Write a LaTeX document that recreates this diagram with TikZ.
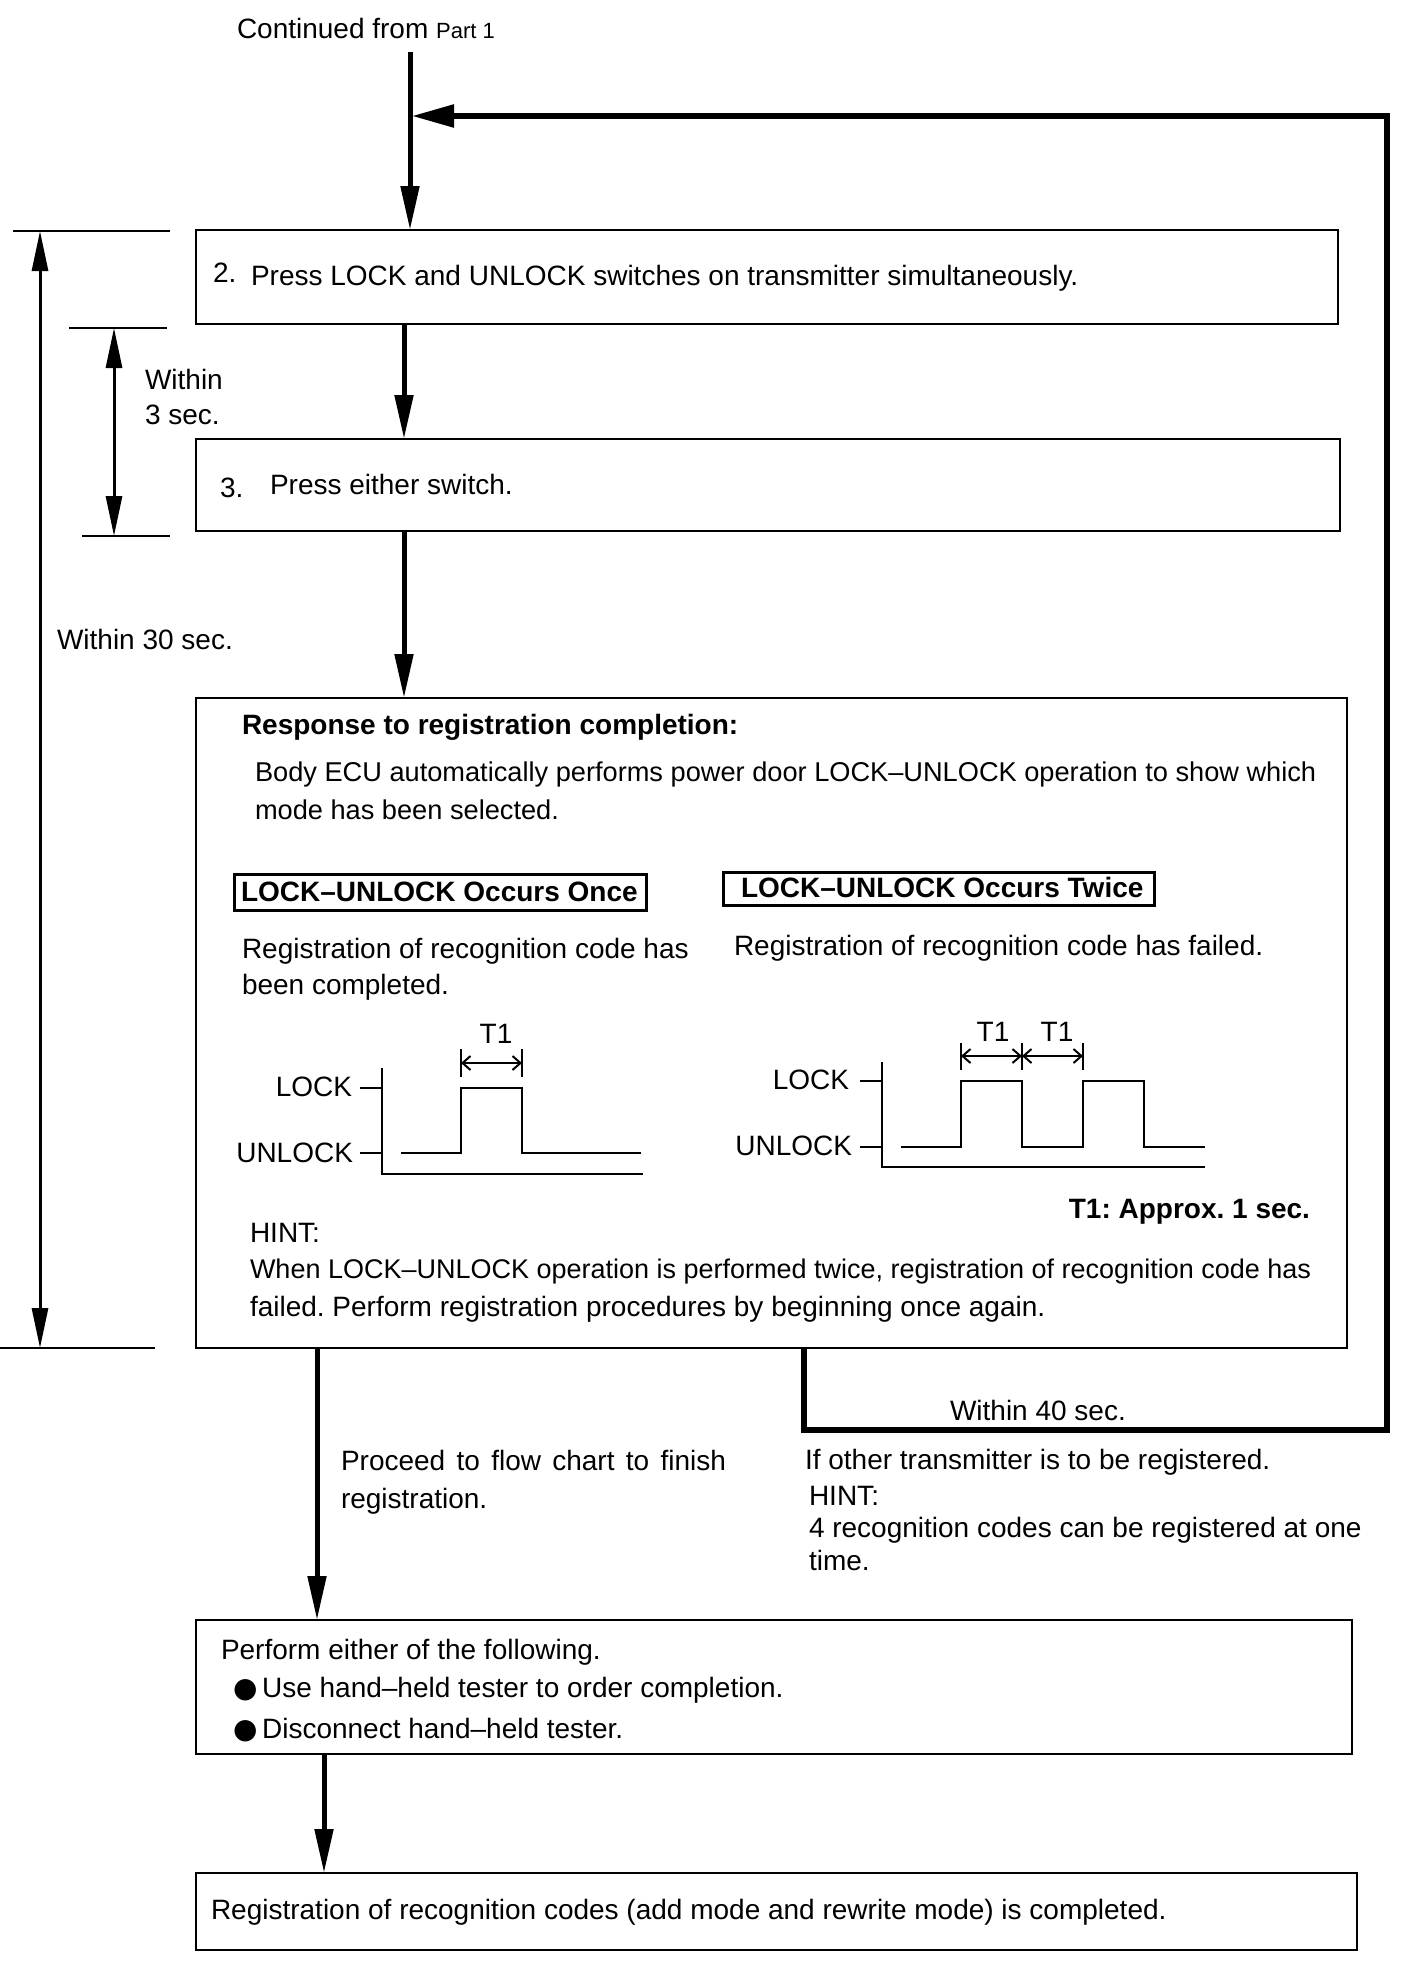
\documentclass[tikz,border=0pt]{standalone}
\usepackage{fontspec}
\setmainfont{Liberation Sans}
\newfontfamily\dejavu{DejaVu Sans}
\usetikzlibrary{arrows.meta}
\frenchspacing
\begin{document}
\begin{tikzpicture}[x=1pt,y=-1pt,
  txt/.style={anchor=base west,inner sep=0pt,outer sep=0pt,font=\fontsize{28}{34}\selectfont},
  txtr/.style={anchor=base east,inner sep=0pt,outer sep=0pt,font=\fontsize{28}{34}\selectfont},
  txtc/.style={anchor=base,inner sep=0pt,outer sep=0pt,font=\fontsize{28}{34}\selectfont},
  boxn/.style={draw,line width=2pt,anchor=north west,inner sep=0pt,outer sep=0pt},
  flow/.style={line width=5pt,-{Triangle[length=44pt,width=18pt]}},
  loopline/.style={line width=5.5pt,-{Triangle[length=42pt,width=22pt]}},
  dimline/.style={line width=3pt,{Triangle[length=40pt,width=16pt]}-{Triangle[length=40pt,width=16pt]}},
  tick/.style={line width=2.5pt},
  sig/.style={line width=2.8pt},
  tarrow/.style={line width=2pt,{Straight Barb[length=8pt,width=14pt]}-{Straight Barb[length=8pt,width=14pt]}},
]
\useasboundingbox (0,0) rectangle (1408,1978);

% boxes
\node[boxn,minimum width=1142pt,minimum height=94pt] (b2) at (196,230) {};
\node[boxn,minimum width=1144pt,minimum height=92pt] (b3) at (196,439) {};
\node[boxn,minimum width=1151pt,minimum height=650pt] (b4) at (196,698) {};
\node[boxn,minimum width=1156pt,minimum height=134pt] (b5) at (196,1620) {};
\node[boxn,minimum width=1161pt,minimum height=77pt] (b6) at (196,1873) {};

% top text
\node[txt] (cont) at (237,38) {Continued from {\fontsize{22}{26}\selectfont Part 1}};

% coordinates for connectors
\coordinate (start) at (410,52);
\coordinate (xa) at (410,0);
\coordinate (xb) at (404,0);
\coordinate (xc) at (317,0);
\coordinate (xd) at (324,0);
\coordinate (xl) at (804,0);
\coordinate (rb) at (1387,1430);
\coordinate (rt) at (1387,116);
\coordinate (fbend) at (412,116);

% main flow
\draw[flow] (start) -- (b2.north -| xa);
\draw[flow] (b2.south -| xb) -- (b3.north -| xb);
\draw[flow] (b3.south -| xb) -- (b4.north -| xb);
\draw[flow] (b4.south -| xc) -- (b5.north -| xc);
\draw[flow] (b5.south -| xd) -- (b6.north -| xd);

% loop back
\draw[loopline] (b4.south -| xl) |- (rb) -- (rt) -- (fbend);

% dimension: within 30 sec
\coordinate (t30a) at (13,231); \coordinate (t30ae) at (170,231);
\coordinate (t30b) at (0,1348); \coordinate (t30be) at (155,1348);
\coordinate (d30a) at (40,231); \coordinate (d30b) at (40,1348);
\draw[tick] (t30a) -- (t30ae);
\draw[tick] (t30b) -- (t30be);
\draw[dimline] (d30a) -- (d30b);
\node[txt] (w30) at (57,649) {Within 30 sec.};

% dimension: within 3 sec
\coordinate (t3a) at (69,328); \coordinate (t3ae) at (167,328);
\coordinate (t3b) at (82,536); \coordinate (t3be) at (170,536);
\coordinate (d3a) at (114,328); \coordinate (d3b) at (114,536);
\draw[tick] (t3a) -- (t3ae);
\draw[tick] (t3b) -- (t3be);
\draw[dimline] (d3a) -- (d3b);
\node[txt] (w3a) at (145,389) {Within};
\node[txt] (w3b) at (145,424) {3 sec.};

% box 2 and 3 text
\node[txt] (n2) at (213,282) {2.};
\node[txt] (s2) at (251,285) {Press LOCK and UNLOCK switches on transmitter simultaneously.};
\node[txt] (n3) at (220,497) {3.};
\node[txt] (s3) at (270,494) {Press either switch.};

% box 4 text
\node[txt,font=\fontsize{28}{34}\selectfont\bfseries] (resp) at (242,734) {Response to registration completion:};
\node[txt,font=\fontsize{27.2}{34}\selectfont] (body1) at (255,781) {Body ECU automatically performs power door LOCK–UNLOCK operation to show which};
\node[txt,font=\fontsize{27.2}{34}\selectfont] (body2) at (255,819) {mode has been selected.};

\node[draw,line width=2.5pt,anchor=north west,minimum width=412pt,minimum height=36pt,inner sep=0pt] (once) at (233,873) {};
\node[txt,font=\fontsize{28}{34}\selectfont\bfseries] (oncet) at (241,901) {LOCK–UNLOCK Occurs Once};
\node[draw,line width=2.5pt,anchor=north west,minimum width=431pt,minimum height=33pt,inner sep=0pt] (twice) at (722,871) {};
\node[txt,font=\fontsize{28}{34}\selectfont\bfseries] (twicet) at (741,897) {LOCK–UNLOCK Occurs Twice};

\node[txt] (r1a) at (242,958) {Registration of recognition code has};
\node[txt] (r1b) at (242,994) {been completed.};
\node[txt] (r2a) at (734,955) {Registration of recognition code has failed.};

% timing diagram 1
\draw[sig] (382,1068) -- (382,1174) -- (643,1174);
\draw[tick] (360,1088) -- (382,1088);
\draw[tick] (360,1153) -- (382,1153);
\draw[sig] (401,1153) -- (461,1153) -- (461,1088) -- (522,1088) -- (522,1153) -- (641,1153);
\draw[tick] (461,1049) -- (461,1077);
\draw[tick] (522,1049) -- (522,1077);
\draw[tarrow] (461,1063) -- (522,1063);
\node[txtc] (t1a) at (496,1043) {T1};
\node[txtr] (lk1) at (352,1096) {LOCK};
\node[txtr] (ul1) at (353,1162) {UNLOCK};

% timing diagram 2
\draw[sig] (882,1062) -- (882,1167) -- (1205,1167);
\draw[tick] (860,1081) -- (882,1081);
\draw[tick] (860,1147) -- (882,1147);
\draw[sig] (901,1147) -- (961,1147) -- (961,1081) -- (1022,1081) -- (1022,1147) -- (1083,1147) -- (1083,1081) -- (1144,1081) -- (1144,1147) -- (1205,1147);
\draw[tick] (961,1043) -- (961,1070);
\draw[tick] (1022,1043) -- (1022,1070);
\draw[tick] (1083,1043) -- (1083,1070);
\draw[tarrow] (961,1056) -- (1022,1056);
\draw[tarrow] (1022,1056) -- (1083,1056);
\node[txtc] (t1b) at (993,1041) {T1};
\node[txtc] (t1c) at (1057,1041) {T1};
\node[txtr] (lk2) at (849,1089) {LOCK};
\node[txtr] (ul2) at (852,1155) {UNLOCK};

\node[txtr,font=\fontsize{28}{34}\selectfont\bfseries] (approx) at (1310,1218) {T1: Approx. 1 sec.};
\node[txt] (hint1) at (250,1242) {HINT:};
\node[txt,font=\fontsize{27}{34}\selectfont] (hint1a) at (250,1278) {When LOCK–UNLOCK operation is performed twice, registration of recognition code has};
\node[txt] (hint1b) at (250,1316) {failed. Perform registration procedures by beginning once again.};

% below box 4
\node[txt] (proc1) at (341,1470) {\makebox[385pt][s]{Proceed to flow chart to finish}};
\node[txt] (proc2) at (341,1508) {registration.};
\node[txt] (w40) at (950,1420) {Within 40 sec.};
\node[txt] (other) at (805,1469) {If other transmitter is to be registered.};
\node[txt] (hint2) at (809,1505) {HINT:};
\node[txt] (hint2a) at (809,1537) {4 recognition codes can be registered at one};
\node[txt] (hint2b) at (809,1570) {time.};

% box 5 text
\node[txt] (perf) at (221,1659) {Perform either of the following.};
\node[txt] (bul1) at (233,1697) {{\dejavu ●}\,Use hand–held tester to order completion.};
\node[txt] (bul2) at (233,1738) {{\dejavu ●}\,Disconnect hand–held tester.};

% box 6 text
\node[txt] (fin) at (211,1919) {Registration of recognition codes (add mode and rewrite mode) is completed.};
\end{tikzpicture}
\end{document}
